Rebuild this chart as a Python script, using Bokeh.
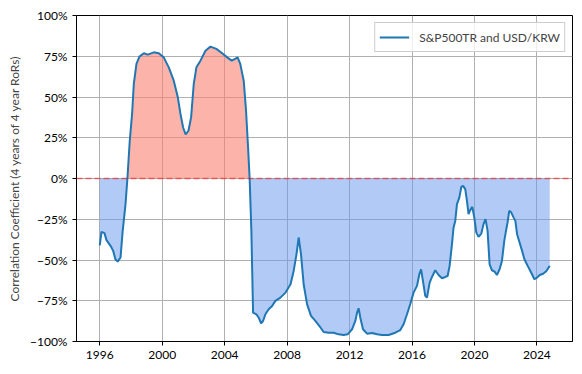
import numpy as np
from bokeh.plotting import figure
from bokeh.models import Range1d, FixedTicker, CustomJSTickFormatter, Span
from bokeh.embed import file_html
from bokeh.resources import INLINE

dates = [1996.0, 1996.11, 1996.3, 1996.43, 1996.69, 1996.86, 1997.0, 1997.15, 1997.33, 1997.47,
         1997.65, 1997.77, 1997.92, 1998.07, 1998.18, 1998.35, 1998.54, 1998.82, 1999.07, 1999.46,
         1999.78, 2000.1, 2000.42, 2000.74, 2001.0, 2001.17, 2001.34, 2001.5, 2001.68, 2001.85,
         2002.02, 2002.19, 2002.45, 2002.77, 2003.09, 2003.47, 2003.84, 2004.16, 2004.45, 2004.64,
         2004.83, 2005.0, 2005.22, 2005.37, 2005.5, 2005.6, 2005.71, 2005.82, 2006.03, 2006.18,
         2006.33, 2006.46, 2006.61, 2006.82, 2007.04, 2007.25, 2007.57, 2007.9, 2008.22, 2008.42,
         2008.6, 2008.74, 2008.89, 2009.06, 2009.28, 2009.53, 2009.81, 2010.07, 2010.34, 2010.66,
         2010.98, 2011.3, 2011.62, 2011.88, 2012.16, 2012.37, 2012.48, 2012.58, 2012.69, 2012.86,
         2013.12, 2013.44, 2013.76, 2014.08, 2014.5, 2014.93, 2015.25, 2015.46, 2015.68, 2015.89,
         2016.1, 2016.32, 2016.47, 2016.58, 2016.7, 2016.85, 2016.96, 2017.13, 2017.28, 2017.49,
         2017.7, 2017.92, 2018.13, 2018.28, 2018.41, 2018.56, 2018.66, 2018.77, 2018.88, 2019.03,
         2019.16, 2019.27, 2019.41, 2019.52, 2019.62, 2019.73, 2019.86, 2019.99, 2020.12, 2020.26,
         2020.44, 2020.58, 2020.71, 2020.84, 2020.97, 2021.12, 2021.29, 2021.44, 2021.61, 2021.76,
         2021.91, 2022.04, 2022.12, 2022.23, 2022.36, 2022.51, 2022.62, 2022.73, 2022.89, 2023.05,
         2023.2, 2023.41, 2023.63, 2023.84, 2024.01, 2024.18, 2024.4, 2024.61, 2024.82]

corr_pct = [-41, -32.7, -33.5, -37.8, -41.3, -44.4, -49.5, -51, -48.5, -32,
            -15.7, 0, 23, 39.6, 58, 70.3, 74.8, 76.8, 76, 77.4,
            76.8, 74.3, 68.2, 60, 49.8, 39.6, 31.3, 27, 29.3, 37.5,
            58, 68.2, 72.3, 78.4, 80.9, 79.5, 76.8, 74.3, 72.3, 73.3,
            74.3, 70.3, 60, 41.6, 19, 0, -32, -82.3, -83.3, -85.4,
            -88.8, -87.4, -83.3, -80.2, -78.2, -75.1, -73.1, -70, -64.9, -56.7,
            -46.5, -36.2, -46.5, -64.9, -77.2, -84.3, -87.4, -90.5, -94.2, -94.6,
            -94.6, -95.6, -96, -95.6, -92.5, -87.4, -82.3, -79.6, -85.4, -92.5,
            -95.2, -94.8, -95.6, -96, -96, -94.6, -93, -89.4, -83.3, -77,
            -70, -65.9, -58.7, -55.7, -62.8, -72, -73.1, -63.9, -60.4, -56.3,
            -59.2, -61.2, -60.4, -59.8, -53.6, -40.3, -30.1, -26, -15.7, -11.7,
            -5.1, -4.5, -6.5, -13.7, -21.9, -19.4, -17.4, -24, -33.2, -35.8,
            -33.8, -28, -24.9, -32.1, -52.6, -56.3, -57.1, -59.2, -55.7, -50.6,
            -38.3, -31.1, -27, -19.8, -20.9, -24, -26, -34.2, -39.3, -44.4,
            -49.5, -53.6, -57.7, -61.8, -60.8, -59.2, -58.4, -56.7, -53.6]

x_ticks = [1996, 2000, 2004, 2008, 2012, 2016, 2020, 2024]
y_ticks = [-100, -75, -50, -25, 0, 25, 50, 75, 100]
series_label = "S&P500TR and USD/KRW"
y_label = "Correlation Coefficient (4 years of 4 year RoRs)"

x = np.array(dates, dtype=float)
y = np.array(corr_pct, dtype=float)

# insert zero crossings so the two fills meet cleanly
fx, fy = [x[0]], [y[0]]
for i in range(1, len(x)):
    if y[i - 1] * y[i] < 0:
        t = y[i - 1] / (y[i - 1] - y[i])
        fx.append(x[i - 1] + t * (x[i] - x[i - 1]))
        fy.append(0.0)
    fx.append(x[i])
    fy.append(y[i])
fx = np.array(fx)
fy = np.array(fy)

FONT = "Lato"

p = figure(width=574, height=366, output_backend="svg", toolbar_location=None,
           x_range=Range1d(1994.51, 2026.28), y_range=Range1d(-100, 100),
           min_border_left=76, min_border_right=2, min_border_top=15, min_border_bottom=25)

p.varea(x=fx, y1=np.zeros_like(fy), y2=np.maximum(fy, 0), fill_color="salmon", fill_alpha=0.6)
p.varea(x=fx, y1=np.zeros_like(fy), y2=np.minimum(fy, 0), fill_color="cornflowerblue", fill_alpha=0.5)
p.line(x, y, line_color="#1f77b4", line_width=2, legend_label=series_label)

p.add_layout(Span(location=0, dimension="width", line_color="red", line_alpha=0.5,
                  line_dash="6 3", line_width=1.5))

p.xaxis.ticker = FixedTicker(ticks=x_ticks)
p.yaxis.ticker = FixedTicker(ticks=y_ticks)
p.yaxis.formatter = CustomJSTickFormatter(
    code="return (tick < 0 ? '\\u2212' + (-tick) : '' + tick) + '%';")
p.yaxis.axis_label = y_label

for ax in p.axis:
    ax.major_label_text_font = FONT
    ax.major_label_text_font_size = "12px"
    ax.major_label_text_color = "black"
    ax.axis_label_text_font = FONT
    ax.axis_label_text_font_size = "12px"
    ax.axis_label_text_font_style = "normal"
    ax.axis_line_color = "black"
    ax.major_tick_line_color = "black"
    ax.major_tick_out = 4
    ax.major_tick_in = 0
    ax.minor_tick_line_color = None

p.grid.grid_line_color = "#b0b0b0"
p.grid.grid_line_width = 1
p.outline_line_color = "black"
p.outline_line_alpha = 1
p.outline_line_width = 1

p.legend.location = "top_right"
p.legend.label_text_font = FONT
p.legend.label_text_font_size = "12px"
p.legend.border_line_color = "#cccccc"
p.legend.border_line_alpha = 1
p.legend.margin = 7
p.legend.padding = 4
p.legend.glyph_width = 30
p.legend.label_standoff = 10
p.legend.background_fill_alpha = 0.8

open("out.html", "w").write(file_html(p, INLINE))
